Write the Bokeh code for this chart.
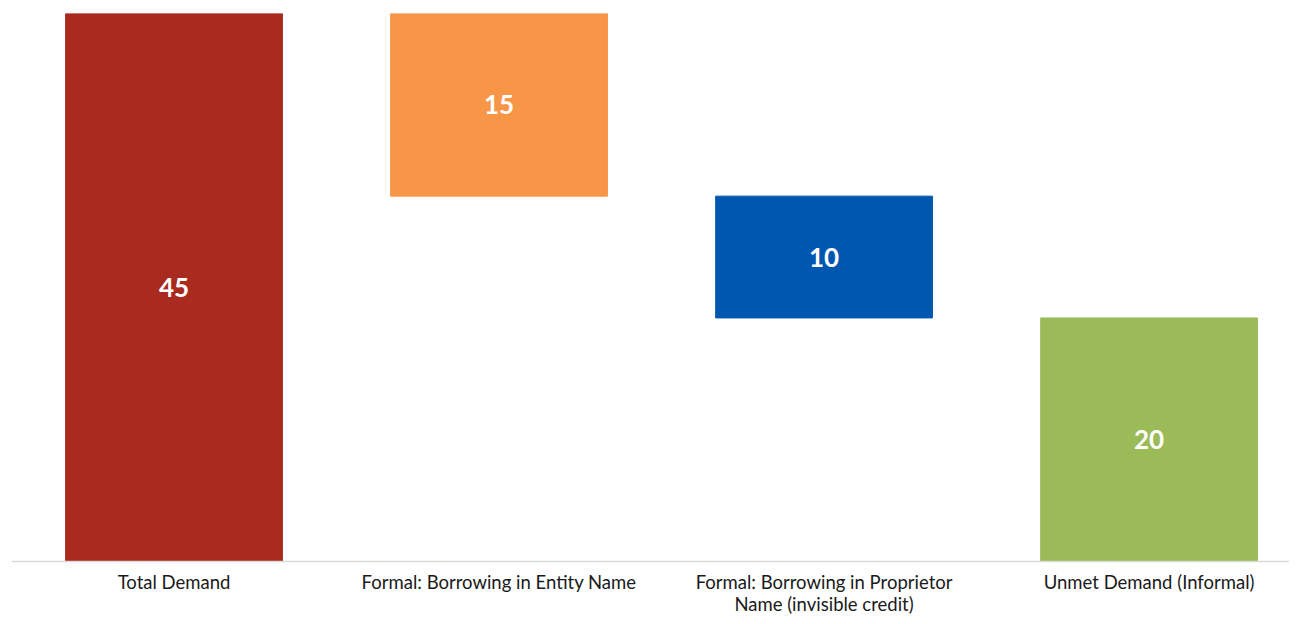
from bokeh.plotting import figure
from bokeh.models import Range1d, ColumnDataSource, Span
from bokeh.core.properties import value
from bokeh.embed import file_html
from bokeh.resources import INLINE

categories = ["Total Demand", "Formal: Borrowing in Entity Name",
              "Formal: Borrowing in Proprietor\nName (invisible credit)",
              "Unmet Demand (Informal)"]
values = [45, 15, 10, 20]
bases = [0, 30, 20, 0]
colors = ["#A92A1F", "#F79646", "#0057B0", "#9BBB59"]

xs = list(range(len(categories)))
tops = [b + v for b, v in zip(bases, values)]
mids = [b + v / 2 for b, v in zip(bases, values)]
labels = [str(v) for v in values]

src = ColumnDataSource(dict(x=xs, bottom=bases, top=tops, mid=mids,
                            color=colors, label=labels, cat=categories))

p = figure(width=1289, height=616, output_backend="svg", toolbar_location=None,
           x_range=Range1d(-0.5, 3.432), y_range=Range1d(-4.52, 45),
           min_border_left=11, min_border_right=0, min_border_top=13, min_border_bottom=0)
p.vbar(x="x", bottom="bottom", top="top", width=0.667, color="color", source=src)
p.text(x="x", y="mid", text="label", source=src, text_align="center",
       text_baseline="middle", text_color="white", text_font=value("Lato"),
       text_font_style="bold", text_font_size="26px")

# category axis: baseline and labels below zero
p.add_layout(Span(location=0, dimension="width", line_color="#D9D9D9", line_width=1.5))
p.text(x="x", y=0, text="cat", source=src, text_align="center", text_baseline="top",
       y_offset=10, text_color="#1A1A1A", text_font=value("Lato"),
       text_font_size="18.5px", text_line_height=1.0)

p.xaxis.visible = False
p.yaxis.visible = False
p.xgrid.visible = False
p.ygrid.visible = False
p.outline_line_color = None

open("out.html", "w").write(file_html(p, INLINE))
